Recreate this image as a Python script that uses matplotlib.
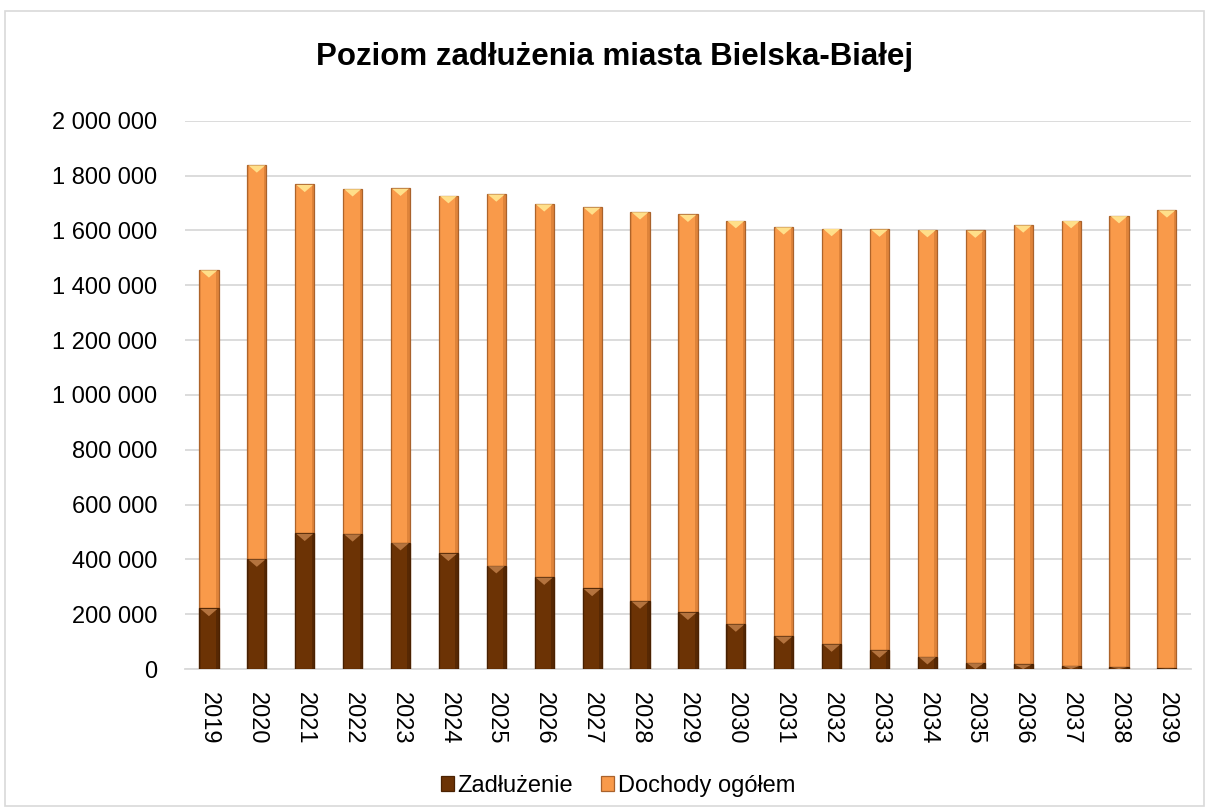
import matplotlib
matplotlib.use("Agg")
import matplotlib.pyplot as plt
from matplotlib.patches import Rectangle, Polygon
from matplotlib.ticker import FuncFormatter, MultipleLocator
import numpy as np

plt.rcParams['font.family'] = ['Liberation Sans', 'DejaVu Sans']

years = ["2019", "2020", "2021", "2022", "2023", "2024", "2025", "2026", "2027", "2028",
         "2029", "2030", "2031", "2032", "2033", "2034", "2035", "2036", "2037", "2038", "2039"]
dochody = [1456000, 1839000, 1768000, 1752000, 1754000, 1727000, 1733000, 1697000, 1685000, 1668000,
           1659000, 1636000, 1613000, 1607000, 1605000, 1603000, 1601000, 1620000, 1636000, 1654000, 1675000]
zadluzenie = [221000, 401000, 495000, 493000, 461000, 422000, 377000, 335000, 294000, 248000,
              207000, 164000, 120000, 91000, 69000, 45000, 23000, 18000, 13000, 8000, 3000]

ORANGE = "#F99A4A"
ORANGE_EDGE = "#A9622C"
BROWN = "#6C3305"
BROWN_EDGE = "#4A2202"

fig = plt.figure(figsize=(12.09, 8.11), dpi=100)
fig.patches.append(Rectangle((0.004, 0.006), 0.992, 0.981, transform=fig.transFigure,
                             fill=False, edgecolor="#d9d9d9", linewidth=1.2))
ax = fig.add_axes([0.153, 0.175, 0.832, 0.676])

x = np.arange(len(years))
w = 0.40
b1 = ax.bar(x, dochody, width=w, color=ORANGE, edgecolor=ORANGE_EDGE, linewidth=0.9, zorder=3,
            label="Dochody ogółem")
b2 = ax.bar(x, zadluzenie, width=w, color=BROWN, edgecolor=BROWN_EDGE, linewidth=0.9, zorder=4,
            label="Zadłużenie")

# side shading and bevel highlights at bar tops
def decorate(bars, light, side, zo):
    for p in bars.patches:
        h = p.get_height()
        if h <= 0:
            continue
        x0 = p.get_x()
        bw = p.get_width()
        ax.add_patch(Rectangle((x0 + bw * 0.86, 0), bw * 0.14, h, facecolor=side,
                               edgecolor="none", alpha=0.45, zorder=zo))
        ax.add_patch(Rectangle((x0, 0), bw * 0.07, h, facecolor=side,
                               edgecolor="none", alpha=0.25, zorder=zo))
        th = min(h, 28000)
        tri = Polygon([(x0 + bw * 0.06, h - 1500), (x0 + bw * 0.94, h - 1500),
                       (x0 + bw / 2, h - th)], closed=True, facecolor=light,
                      edgecolor="none", zorder=zo + 0.5)
        ax.add_patch(tri)

decorate(b1, "#FFDF8A", "#C06A28", 3.2)
decorate(b2, "#B4733E", "#3E1C02", 4.2)

ax.set_ylim(0, 2000000)
ax.set_xlim(-0.5, len(years) - 0.5)
ax.yaxis.set_major_locator(MultipleLocator(200000))
ax.yaxis.set_major_formatter(FuncFormatter(lambda v, p: f"{int(v):,}".replace(",", " ")))
ax.grid(axis="y", color="#d9d9d9", linewidth=1.3, zorder=0)
ax.set_axisbelow(True)
for s in ["top", "right", "left"]:
    ax.spines[s].set_visible(False)
ax.spines["bottom"].set_color("#d9d9d9")
ax.spines["bottom"].set_linewidth(1.3)
ax.set_xticks(x)
ax.set_xticklabels(years, rotation=270, fontsize=17)
ax.tick_params(axis="both", length=0, labelsize=17, colors="black")
ax.tick_params(axis="y", pad=20)
ax.tick_params(axis="x", pad=16.5)

fig.text(0.508, 0.930, "Poziom zadłużenia miasta Bielska-Białej", fontsize=22.5,
         fontweight="bold", ha="center", va="center")

leg = fig.legend(handles=[b2, b1], labels=["Zadłużenie", "Dochody ogółem"], loc="center",
                 bbox_to_anchor=(0.511, 0.031), ncol=2, frameon=False, fontsize=17,
                 handlelength=0.55, handleheight=0.55, handletextpad=0.15, columnspacing=1.2)

fig.savefig("out.png", dpi=100)
